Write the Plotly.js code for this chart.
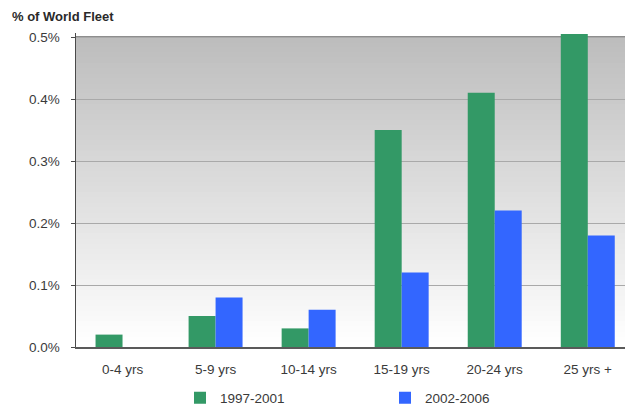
<!DOCTYPE html>
<html>
<head>
<meta charset="utf-8">
<script src="https://cdn.plot.ly/plotly-3.0.1.min.js"></script>
<style>
  html, body { margin: 0; padding: 0; background: #fff; overflow: hidden; }
  #chart { width: 625px; height: 409px; }
</style>
</head>
<body>
<div id="chart"></div>
<script>
// Share of the world fleet by age band, two periods (values in %)
const ageBands = ['0-4 yrs', '5-9 yrs', '10-14 yrs', '15-19 yrs', '20-24 yrs', '25 yrs +'];
const series1997 = [0.02, 0.05, 0.03, 0.35, 0.41, 0.505];
const series2002 = [0, 0.08, 0.06, 0.12, 0.22, 0.18];
const seriesNames = ['1997-2001', '2002-2006'];
const yTicks = [0, 0.1, 0.2, 0.3, 0.4, 0.5];
const yTickText = yTicks.map(v => v.toFixed(1) + '%');

const FONT = 'Liberation Sans, Arial, sans-serif';

// Vertical grey-to-white backdrop behind the bars, built as overlapping strips
const bgTop = 0.5;
const strips = 60;
const shapes = [];
for (let i = 0; i < strips; i++) {
  const t = i / (strips - 1);            // 0 at bottom, 1 at top
  const c = Math.round(255 - t * (255 - 189));
  shapes.push({
    type: 'rect', layer: 'below', xref: 'paper', yref: 'y',
    x0: 0, x1: 1,
    y0: bgTop * i / strips, y1: Math.min(bgTop, bgTop * (i + 2) / strips),
    fillcolor: `rgb(${c},${c},${c})`, line: { width: 0 }
  });
}
// heavier rule along the top of the backdrop
shapes.push({
  type: 'line', layer: 'below', xref: 'paper', yref: 'y',
  x0: 0, x1: 1, y0: bgTop, y1: bgTop,
  line: { color: '#8e8e8e', width: 2 }
});

const traces = [
  {
    type: 'bar', name: seriesNames[0], x: ageBands, y: series1997,
    marker: { color: '#339966', line: { width: 0 } },
    hoverinfo: 'skip'
  },
  {
    type: 'bar', name: seriesNames[1], x: ageBands, y: series2002,
    marker: { color: '#3366ff', line: { width: 0 } },
    hoverinfo: 'skip'
  }
];

const layout = {
  width: 625, height: 409,
  margin: { l: 76, r: 0, t: 33, b: 62, pad: 0, autoexpand: false },
  paper_bgcolor: '#ffffff',
  plot_bgcolor: 'rgba(0,0,0,0)',
  font: { family: FONT, size: 13.5, color: '#3a3a3a' },
  barmode: 'group',
  bargap: 0.42,
  bargroupgap: 0,
  showlegend: true,
  title: {
    text: '<b>% of World Fleet</b>',
    xref: 'container', yref: 'container',
    x: 12 / 625, xanchor: 'left',
    y: 1 - 16 / 409, yanchor: 'middle',
    font: { family: FONT, size: 13, color: '#2a2a2a' }
  },
  xaxis: {
    type: 'category',
    range: [-0.5, 5.4],
    showgrid: false,
    zeroline: false,
    showline: true, linecolor: '#5a5a5a', linewidth: 1.5,
    ticks: '', ticklabelstandoff: 9,
    tickfont: { family: FONT, size: 13.5, color: '#3a3a3a' },
    fixedrange: true
  },
  yaxis: {
    range: [0, 0.5065],
    tickmode: 'array',
    tickvals: yTicks,
    ticktext: yTickText,
    showgrid: true, gridcolor: '#a9a9a9', gridwidth: 1,
    zeroline: false,
    showline: true, linecolor: '#4a4a4a', linewidth: 1.5,
    ticks: 'outside', ticklen: 4, tickcolor: '#4a4a4a', tickwidth: 1,
    ticklabelstandoff: 8,
    tickfont: { family: FONT, size: 13.5, color: '#3a3a3a' },
    fixedrange: true
  },
  legend: {
    orientation: 'h',
    x: (180 - 76) / 549, xanchor: 'left',
    y: (347 - 398) / 314, yanchor: 'middle',
    entrywidth: 160, entrywidthmode: 'pixels',
    font: { family: FONT, size: 13.5, color: '#3a3a3a' },
    bgcolor: 'rgba(0,0,0,0)'
  },
  shapes: shapes
};

Plotly.newPlot('chart', traces, layout, { staticPlot: true, displayModeBar: false });
</script>
</body>
</html>
